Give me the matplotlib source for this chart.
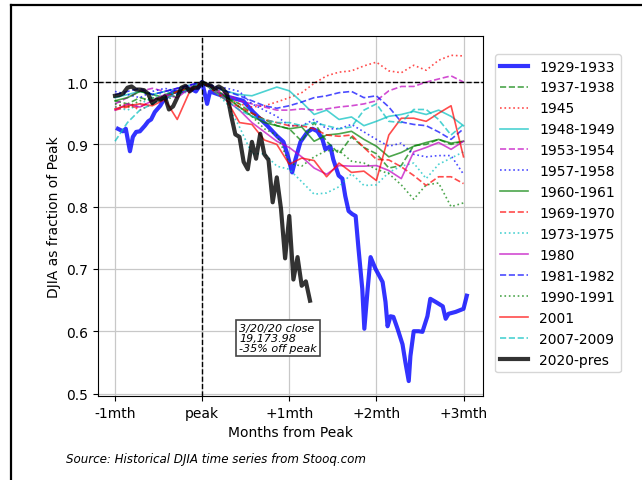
import matplotlib
matplotlib.use("Agg")
import matplotlib.pyplot as plt
from matplotlib.lines import Line2D

# ---------------- data ----------------
days = [-21, -18, -15, -12, -9, -6, -3, 0, 3, 6, 9, 12, 15, 18, 21, 24, 27,
        30, 33, 36, 39, 42, 45, 48, 51, 54, 57, 60, 63]

x1929 = [-20.3, -19.1, -18.4, -17.4, -16.7, -15.9, -15, -13.8, -13, -12.3, -11.4,
         -10.1, -9.4, -8.2, -7, -5, -3, -1.5, 0, 1.2, 1.9, 4, 7, 9.9, 12.3, 15.7,
         18.1, 19.6, 20.5, 21.7, 22.5, 23.7, 25.4, 26.6, 27.8, 29, 29.7, 30.9, 31.6,
         32.9, 33.8, 34.5, 35.3, 36.2, 37, 37.7, 38.6, 39.1, 39.9, 40.6, 41.8, 43.5,
         44.2, 44.7, 45.4, 46.1, 47.1, 48.3, 49, 49.8, 50.2, 51, 52.2, 53.1, 54.3,
         55, 56.3, 58, 58.7, 59.4, 61.1, 63, 63.8]
y1929 = [0.925, 0.921, 0.925, 0.889, 0.912, 0.92, 0.921, 0.93, 0.937, 0.94, 0.952,
         0.962, 0.97, 0.978, 0.984, 0.985, 0.99, 0.985, 1.0, 0.965, 0.985, 0.98, 0.975,
         0.97, 0.952, 0.93, 0.913, 0.904, 0.885, 0.855, 0.876, 0.904, 0.92, 0.925,
         0.921, 0.908, 0.892, 0.897, 0.876, 0.85, 0.845, 0.817, 0.793, 0.788, 0.785,
         0.732, 0.668, 0.604, 0.668, 0.719, 0.70, 0.679, 0.647, 0.608, 0.624, 0.623,
         0.604, 0.579, 0.55, 0.52, 0.56, 0.60, 0.60, 0.599, 0.624, 0.652, 0.647, 0.64,
         0.62, 0.628, 0.631, 0.636, 0.657]

s1937 = [0.97, 0.965, 0.975, 0.97, 0.98, 0.985, 0.99, 1.0, 0.99, 0.975, 0.965, 0.95,
         0.94, 0.93, 0.925, 0.905, 0.935, 0.905, 0.885, 0.912, 0.895, 0.885, 0.862,
         0.866, 0.898, 0.9, 0.908, 0.9, 0.905]
s1945 = [0.96, 0.965, 0.955, 0.965, 0.975, 0.98, 0.99, 1.0, 0.99, 0.975, 0.965, 0.96,
         0.962, 0.968, 0.975, 0.983, 0.998, 1.01, 1.016, 1.018, 1.026, 1.032, 1.018,
         1.015, 1.027, 1.019, 1.035, 1.043, 1.042]
s1948 = [0.975, 0.98, 0.985, 0.98, 0.985, 0.99, 0.995, 1.0, 0.99, 0.985, 0.98, 0.978,
         0.985, 0.992, 0.986, 0.968, 0.948, 0.955, 0.94, 0.944, 0.93, 0.937, 0.945,
         0.948, 0.953, 0.948, 0.955, 0.945, 0.93]
s1953 = [0.965, 0.975, 0.985, 0.99, 0.985, 0.99, 0.995, 1.0, 0.99, 0.98, 0.97, 0.965,
         0.96, 0.955, 0.955, 0.957, 0.955, 0.957, 0.96, 0.962, 0.965, 0.97, 0.986,
         0.993, 0.993, 1.0, 1.005, 1.01, 1.0]
s1957 = [0.985, 0.98, 0.975, 0.985, 0.99, 0.985, 0.995, 1.0, 0.993, 0.99, 0.985, 0.965,
         0.955, 0.945, 0.93, 0.93, 0.94, 0.925, 0.925, 0.932, 0.92, 0.908, 0.897,
         0.902, 0.884, 0.88, 0.882, 0.882, 0.852]
s1960 = [0.97, 0.975, 0.985, 0.98, 0.975, 0.985, 0.99, 1.0, 0.985, 0.975, 0.96, 0.945,
         0.935, 0.93, 0.925, 0.928, 0.905, 0.915, 0.917, 0.921, 0.908, 0.897, 0.88,
         0.887, 0.897, 0.903, 0.908, 0.902, 0.905]
s1969 = [0.955, 0.96, 0.96, 0.97, 0.975, 0.985, 0.99, 1.0, 0.985, 0.97, 0.96, 0.95,
         0.94, 0.935, 0.93, 0.93, 0.925, 0.915, 0.913, 0.915, 0.895, 0.876, 0.875,
         0.864, 0.85, 0.834, 0.848, 0.848, 0.837]
s1973 = [0.96, 0.955, 0.965, 0.975, 0.985, 0.98, 0.985, 1.0, 0.985, 0.965, 0.928, 0.885,
         0.885, 0.865, 0.86, 0.84, 0.82, 0.822, 0.832, 0.853, 0.834, 0.835, 0.855,
         0.865, 0.87, 0.845, 0.868, 0.878, 0.888]
s1980 = [0.955, 0.965, 0.96, 0.97, 0.98, 0.975, 0.99, 1.0, 0.99, 0.97, 0.955, 0.935,
         0.92, 0.905, 0.895, 0.88, 0.862, 0.852, 0.866, 0.865, 0.865, 0.866, 0.858,
         0.845, 0.888, 0.895, 0.903, 0.892, 0.905]
s1981 = [0.98, 0.985, 0.99, 0.98, 0.985, 0.99, 0.995, 1.0, 0.993, 0.985, 0.978, 0.97,
         0.962, 0.958, 0.962, 0.968, 0.975, 0.978, 0.983, 0.985, 0.975, 0.978, 0.96,
         0.936, 0.932, 0.93, 0.92, 0.908, 0.925]
s1990 = [0.965, 0.96, 0.97, 0.975, 0.97, 0.98, 0.99, 1.0, 0.99, 0.975, 0.96, 0.945,
         0.925, 0.915, 0.87, 0.865, 0.88, 0.89, 0.89, 0.873, 0.87, 0.86, 0.853, 0.835,
         0.812, 0.835, 0.838, 0.8, 0.806]
s2001 = [0.957, 0.962, 0.965, 0.962, 0.972, 0.94, 0.985, 1.0, 0.985, 0.97, 0.935, 0.932,
         0.907, 0.9, 0.868, 0.878, 0.874, 0.848, 0.87, 0.855, 0.857, 0.842, 0.915,
         0.942, 0.942, 0.937, 0.95, 0.962, 0.88]
s2007 = [0.905, 0.935, 0.955, 0.965, 0.975, 0.98, 0.99, 1.0, 0.985, 0.97, 0.955, 0.945,
         0.94, 0.935, 0.935, 0.93, 0.935, 0.93, 0.925, 0.928, 0.955, 0.965, 0.937,
         0.935, 0.956, 0.956, 0.94, 0.915, 0.932]

x2020 = list(range(-21, 27))
y2020 = [0.978, 0.979, 0.982, 0.991, 0.993, 0.988, 0.988, 0.987, 0.981, 0.966, 0.972,
         0.972, 0.977, 0.956, 0.961, 0.975, 0.991, 0.994, 0.985, 0.991, 0.991, 1.0,
         0.996, 0.995, 0.989, 0.993, 0.989, 0.981, 0.946, 0.916, 0.912, 0.872, 0.860,
         0.904, 0.877, 0.917, 0.884, 0.875, 0.807, 0.847, 0.797, 0.717, 0.785, 0.683,
         0.719, 0.673, 0.680, 0.649]

thin_labels = ["1937-1938", "1945", "1948-1949", "1953-1954", "1957-1958",
               "1960-1961", "1969-1970", "1973-1975", "1980", "1981-1982",
               "1990-1991", "2001", "2007-2009"]
thin_series = [s1937, s1945, s1948, s1953, s1957, s1960, s1969, s1973, s1980,
               s1981, s1990, s2001, s2007]
thin_styles = ["g--", "r:", "c-", "m--", "b:", "g-", "r--", "c:", "m-", "b--",
               "g:", "r-", "c--"]

xtick_pos = [-21, 0, 21, 42, 63]
xtick_labels = ["-1mth", "peak", "+1mth", "+2mth", "+3mth"]

# ---------------- figure ----------------
fig = plt.figure(figsize=(6.42, 4.81), dpi=100)
ax = fig.add_axes([98 / 642, 1 - 397 / 481, 385 / 642, 360 / 481])

ax.plot(x1929, y1929, "b-", lw=3, alpha=0.8, label="1929-1933")
for lab, ser, sty in zip(thin_labels, thin_series, thin_styles):
    ax.plot(days, ser, sty, lw=1.2, alpha=0.7, label=lab)
ax.plot(x2020, y2020, "k-", lw=3, alpha=0.8, label="2020-pres")

ax.axhline(1.0, color="k", ls="--", lw=1)
ax.axvline(0, color="k", ls="--", lw=1)

ax.set_xlim(-25.1, 67.7)
ax.set_ylim(0.496, 1.074)
ax.set_xticks(xtick_pos)
ax.set_xticklabels(xtick_labels)
ax.set_yticks([0.5, 0.6, 0.7, 0.8, 0.9, 1.0])
ax.tick_params(labelsize=10)
ax.grid(True, color="#c8c8c8", lw=0.9)
ax.set_axisbelow(True)
ax.set_xlabel("Months from Peak", fontsize=10)
ax.set_ylabel("DJIA as fraction of Peak", fontsize=10)

ax.text(8.9, 0.565, "3/20/20 close\n19,173.98\n-35% off peak", fontsize=8,
        style="italic", ha="left", va="bottom", linespacing=1.0,
        bbox=dict(boxstyle="square,pad=0.3", facecolor="white",
                  edgecolor="#444444", lw=1.2))

ax.legend(loc="upper left", bbox_to_anchor=(1.031, 0.95), borderaxespad=0,
          fontsize=10)

fig.text(66 / 642, 1 - 460 / 481, "Source: Historical DJIA time series from Stooq.com",
         fontsize=8.6, style="italic", va="center", ha="left")

# screenshot border lines (top and left)
fig.add_artist(Line2D([11 / 642, 1], [1 - 6 / 481, 1 - 6 / 481], color="k", lw=1.6,
                      transform=fig.transFigure))
fig.add_artist(Line2D([11 / 642, 11 / 642], [0, 1 - 6 / 481], color="k", lw=1.6,
                      transform=fig.transFigure))

fig.savefig("out.png", dpi=100)
